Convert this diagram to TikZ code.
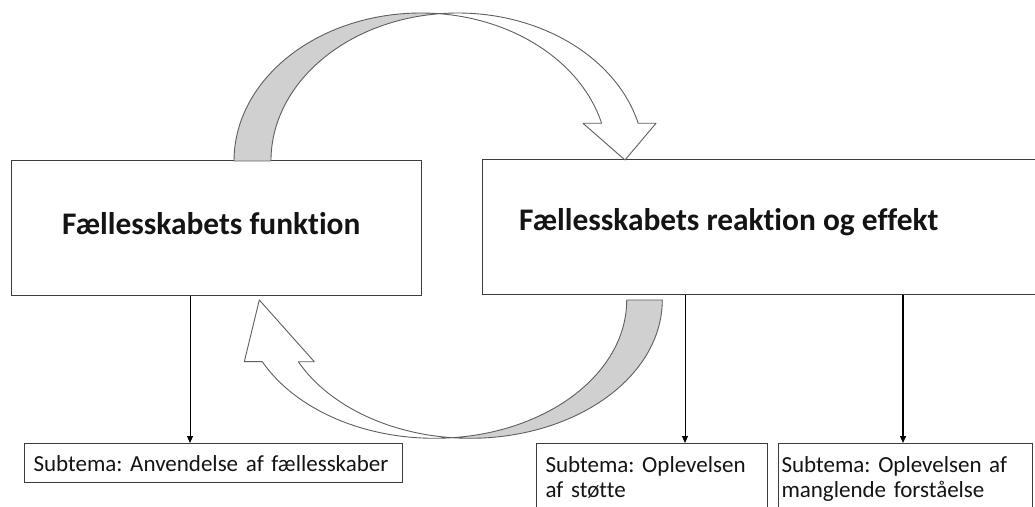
\documentclass[tikz,border=0pt]{standalone}
\usepackage{fontspec}
\setmainfont{Carlito}[Ligatures={NoCommon}]
\usetikzlibrary{arrows.meta}
\frenchspacing
\definecolor{bandgray}{RGB}{208,208,208}
\definecolor{edgegray}{RGB}{95,95,95}
\definecolor{boxedge}{RGB}{60,60,60}
\definecolor{textcol}{RGB}{20,20,20}
\begin{document}
\begin{tikzpicture}[x=1pt,y=1pt,
  mainbox/.style={draw=boxedge, line width=1.2pt, inner sep=0pt, anchor=south west},
  maintext/.style={font=\fontsize{31.4}{36}\selectfont\bfseries, text=textcol, inner sep=0pt, anchor=base west},
  subbox/.style={draw=boxedge, line width=1pt, anchor=north west, inner ysep=0pt, align=left,
     font=\fontsize{23}{25}\selectfont, text=textcol},
  band/.style={draw=edgegray, line width=0.9pt, line join=round},
  conn/.style={draw=black, line width=0.9pt, -{Triangle[length=7pt,width=6pt]}}]
\clip (0,0) rectangle (1035,506);
\fill[white] (0,0) rectangle (1035,506);

% main boxes
\node[mainbox, minimum width=410pt, minimum height=135pt] (func) at (11,210) {};
\node[mainbox, minimum width=600pt, minimum height=135pt] (reak) at (482,211) {};
\node[maintext] (funcT) at (62,271.7) {Fællesskabets funktion};
\node[maintext] (reakT) at (519,275.5) {Fællesskabets reaktion og effekt};

% top curved arrow
\filldraw[band, fill=bandgray] (234,345)
  arc[start angle=180, end angle=84.35, x radius=186.9, y radius=148]
  arc[start angle=95.65, end angle=180, x radius=186.7, y radius=148] -- cycle;
\filldraw[band, fill=white] (439.3,492.3)
  arc[start angle=84.35, end angle=14.76, x radius=186.9, y radius=148]
  -- (583,382.7) -- (625,346) -- (656,382.7) -- (638.2,382.7)
  arc[start angle=14.76, end angle=95.65, x radius=186.7, y radius=148] -- cycle;

% bottom curved arrow
\filldraw[band, fill=bandgray] (662.3,206)
  arc[start angle=0, end angle=-95.35, x radius=192.1, y radius=138.3]
  arc[start angle=-84.66, end angle=0, x radius=192.3, y radius=138.3] -- cycle;
\filldraw[band, fill=white] (452.3,68.3)
  arc[start angle=-95.35, end angle=-153.5, x radius=192.1, y radius=138.3]
  -- (314.3,144.3) -- (259.3,206) -- (244.3,144.3) -- (262.3,144.3)
  arc[start angle=-153.5, end angle=-84.66, x radius=192.3, y radius=138.3] -- cycle;

% sub-theme boxes
\node[subbox, inner xsep=9pt, text width=360pt, text height=27.7pt, text depth=11.3pt] (sub1) at (24,63)
  {Subtema: Anvendelse af fællesskaber};
\node[subbox, inner xsep=9pt, text width=213pt, text height=28.7pt, text depth=45pt] (sub2) at (536,63)
  {Subtema: Oplevelsen\\af støtte};
\node[subbox, inner xsep=3pt, text width=248pt, text height=28.7pt, text depth=45pt] (sub3) at (778,63)
  {Subtema: Oplevelsen af\\manglende forståelse};

% connectors
\coordinate (c1) at (190,0);
\coordinate (c2) at (685,0);
\coordinate (c3) at (903,0);
\draw[conn] (c1 |- func.south) -- (c1 |- sub1.north);
\draw[conn] (c2 |- reak.south) -- (c2 |- sub2.north);
\draw[conn, line width=1.4pt] (c3 |- reak.south) -- (c3 |- sub3.north);
\end{tikzpicture}
\end{document}
